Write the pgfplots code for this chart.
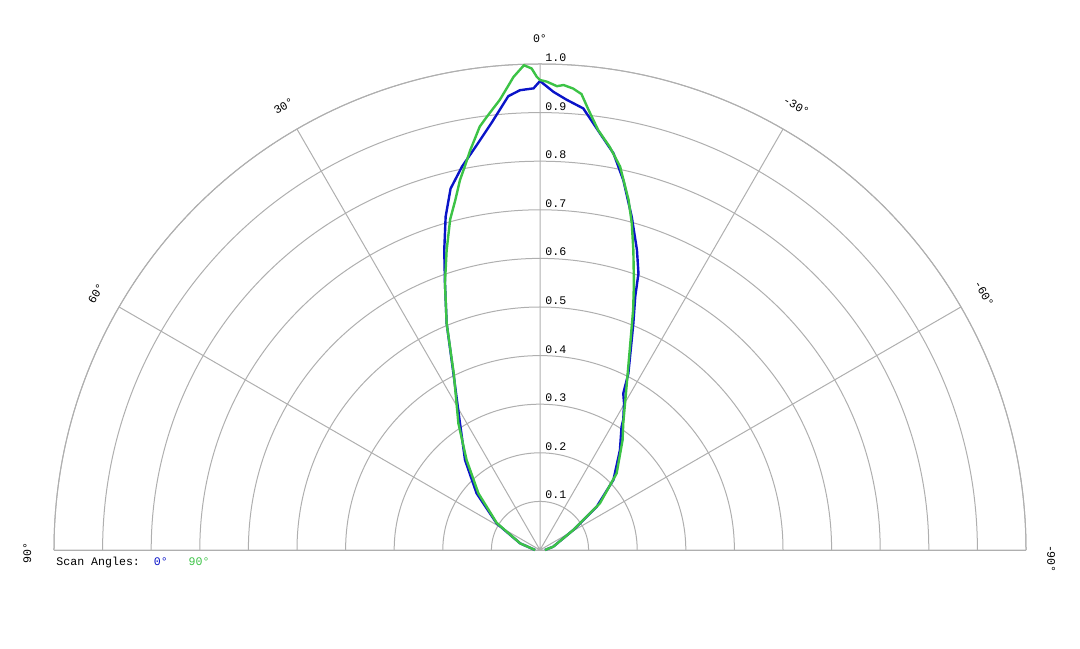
\documentclass[border=0pt]{standalone}
\usepackage{pgfplots}
\pgfplotsset{compat=1.18}
\usepackage{pgfplotstable}
\usepgfplotslibrary{polar}
\usepackage{fontspec}
\setmainfont{Liberation Mono}
\definecolor{scanblue}{RGB}{10,20,200}
\definecolor{scangreen}{RGB}{60,195,70}
\definecolor{gridgray}{RGB}{175,175,175}

% scan angle (deg, 0 = normal, + to the left), relative intensity
\pgfplotstableread{
a r
90 0.010
71.5 0.043
58.4 0.105
48.2 0.175
39.8 0.241
32.3 0.308
26.1 0.405
22.4 0.504
19.6 0.583
17.7 0.648
15.8 0.713
13.9 0.766
11.5 0.805
8.9 0.843
6.5 0.884
4.0 0.936
2.5 0.947
0.8 0.950
0 0.965
-1.7 0.943
-3.4 0.928
-5.6 0.913
-8.2 0.866
-10.5 0.830
-12.7 0.780
-15.4 0.711
-17.9 0.649
-19.6 0.604
-20.6 0.557
-22.4 0.504
-26.6 0.406
-28.0 0.365
-29.8 0.348
-32.6 0.318
-33.5 0.304
-38.7 0.263
-46.3 0.209
-52.6 0.147
-59.0 0.080
-76.0 0.028
-90 0.010
}\scanzero

\pgfplotstableread{
a r
90 0.010
71.5 0.043
58.0 0.105
47.4 0.172
39.2 0.239
32.8 0.310
26.0 0.405
22.4 0.504
19.6 0.583
17.3 0.646
15.2 0.705
13.6 0.741
12.2 0.779
11.1 0.804
9.9 0.835
8.1 0.880
7.0 0.898
5.1 0.930
3.2 0.975
1.9 0.998
1.0 0.991
0.4 0.974
0 0.967
-0.8 0.964
-2.1 0.955
-2.9 0.958
-4.1 0.952
-5.2 0.942
-6.3 0.911
-7.9 0.872
-9.8 0.842
-11.8 0.806
-14.2 0.743
-15.7 0.698
-17.3 0.646
-19.4 0.582
-21.2 0.530
-23.9 0.457
-27.5 0.387
-33.3 0.312
-36.9 0.283
-45.0 0.223
-52.1 0.156
-59.0 0.080
-76.0 0.028
-90 0.010
}\scanninety

\begin{document}
\begin{tikzpicture}[every node/.style={font=\fontsize{5.8}{7}\selectfont}]
\path[use as bounding box] (0,0) rectangle (540pt,324pt);
\begin{polaraxis}[
  at={(270pt,49pt)}, anchor=origin,
  width=486pt, height=486pt, scale only axis,
  xmin=0, xmax=180, ymin=0, ymax=1,
  xtick={0,30,60,90,120,150,180},
  ytick={0.1,0.2,0.3,0.4,0.5,0.6,0.7,0.8,0.9,1.0},
  xticklabels={}, yticklabels={},
  grid=major,
  major grid style={gridgray, line width=0.5pt},
  axis line style={gridgray, line width=0.5pt},
  major tick length=0pt,
  clip=false,
]
\addplot[scanblue, line width=1.2pt] table[x expr=\thisrow{a}+90, y=r] {\scanzero};
\addplot[scangreen, line width=1.2pt] table[x expr=\thisrow{a}+90, y=r] {\scanninety};

\pgfplotsinvokeforeach{0.1,0.2,0.3,0.4,0.5,0.6,0.7,0.8,0.9,1.0}{
  \node[anchor=south west, inner sep=0pt, xshift=2.5pt, yshift=1pt] at (axis cs:90,#1) {#1};
}
\node at (axis cs:90,1.053) {0°};
\node[rotate=30] at (axis cs:120,1.055) {30°};
\node[rotate=60] at (axis cs:150,1.055) {60°};
\node[rotate=90] at (axis cs:180.3,1.055) {90°};
\node[rotate=-30] at (axis cs:60,1.055) {-30°};
\node[rotate=-60] at (axis cs:30,1.055) {-60°};
\node[rotate=-90] at (axis cs:-1.0,1.052) {-90°};
\end{polaraxis}
\node[anchor=west, inner sep=0pt] at (28pt,43pt)
  {Scan Angles:\ \ \textcolor{scanblue}{0°}\ \ \ \textcolor{scangreen}{90°}};
\end{tikzpicture}
\end{document}
